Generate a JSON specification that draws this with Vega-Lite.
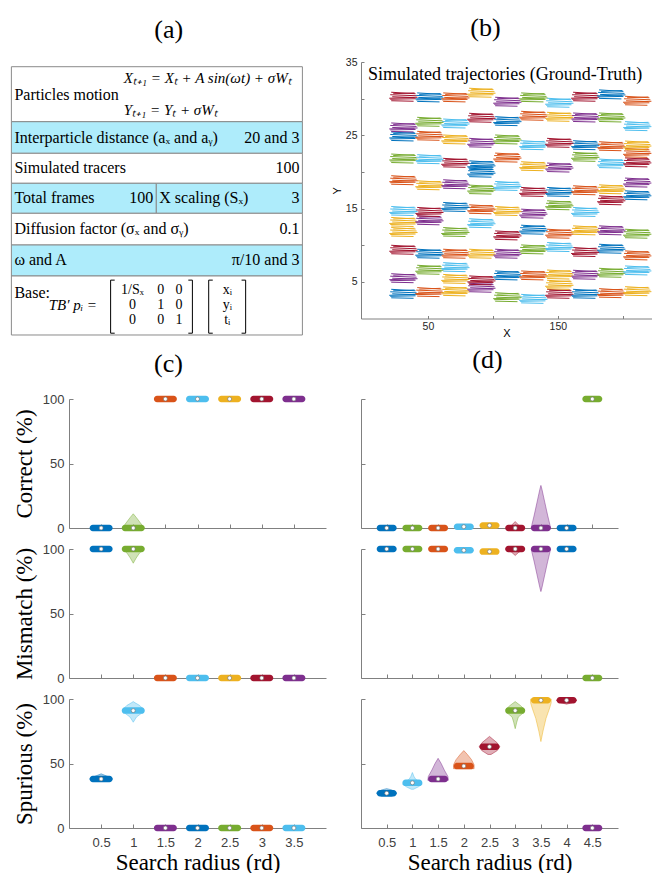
{
"$schema":"https://vega.github.io/schema/vega-lite/v6.json",
"padding":{"left":10,"top":15,"right":0,"bottom":0},
"background":"white",
"config":{
 "view":{"stroke":null},
 "axis":{"grid":false,"domainColor":"#808080","tickColor":"#808080","tickSize":-4,"labelFont":"Liberation Sans","labelFontSize":13,"labelColor":"#404040","titleFont":"Liberation Serif","titleFontSize":23,"titleFontWeight":"normal","titleColor":"#000000","labelOverlap":false},
 "axisX":{"labelPadding":12,"titlePadding":2},
 "axisY":{"labelPadding":9,"titlePadding":6},
 "title":{"font":"Liberation Serif","fontSize":26,"fontWeight":"normal","color":"#000000","frame":"group","anchor":"middle"}
},
"datasets":{
 "cells":[
  {"r0":0,"r1":1.845,"c0":0,"c1":1,"bg":"w","lt":"Particles motion","rt":"","ym":0.95},
  {"r0":1.845,"r1":2.905,"c0":0,"c1":1,"bg":"c","lt":"Interparticle distance (aₓ and aᵧ)","rt":"20 and 3","ym":2.375},
  {"r0":2.905,"r1":3.911,"c0":0,"c1":1,"bg":"w","lt":"Simulated tracers","rt":"100","ym":3.41},
  {"r0":3.911,"r1":4.918,"c0":0,"c1":0.498,"bg":"c","lt":"Total frames","rt":"100","ym":4.415},
  {"r0":3.911,"r1":4.918,"c0":0.498,"c1":1,"bg":"c","lt":"X scaling (Sₓ)","rt":"3","ym":4.415},
  {"r0":4.918,"r1":5.981,"c0":0,"c1":1,"bg":"w","lt":"Diffusion factor (σₓ and σᵧ)","rt":"0.1","ym":5.45},
  {"r0":5.981,"r1":7.021,"c0":0,"c1":1,"bg":"c","lt":"ω and A","rt":"π/10 and 3","ym":6.5},
  {"r0":7.021,"r1":9,"c0":0,"c1":1,"bg":"w","lt":"Base:","rt":"","ym":7.59}
 ],
 "eq":[
  {"x":0.386,"y":0.38,"t":"Xₜ₊₁ = Xₜ + A sin(ωt) + σWₜ"},
  {"x":0.386,"y":1.45,"t":"Yₜ₊₁ = Yₜ + σWₜ"},
  {"x":0.128,"y":8.0,"t":"TB′ pᵢ ="}
 ],
 "mat":[
  {"x":0.416,"y":7.49,"t":"1/Sₓ"},{"x":0.513,"y":7.49,"t":"0"},{"x":0.576,"y":7.49,"t":"0"},
  {"x":0.416,"y":8.0,"t":"0"},{"x":0.513,"y":8.0,"t":"1"},{"x":0.576,"y":8.0,"t":"0"},
  {"x":0.416,"y":8.5,"t":"0"},{"x":0.513,"y":8.5,"t":"0"},{"x":0.576,"y":8.5,"t":"1"},
  {"x":0.742,"y":7.49,"t":"xᵢ"},{"x":0.742,"y":8.0,"t":"yᵢ"},{"x":0.742,"y":8.5,"t":"tᵢ"}
 ],
 "br":[
  {"x":0.341,"x2":0.341,"y":7.16,"y2":8.94},{"x":0.341,"x2":0.355,"y":7.16,"y2":7.16},{"x":0.341,"x2":0.355,"y":8.94,"y2":8.94},
  {"x":0.622,"x2":0.622,"y":7.16,"y2":8.94},{"x":0.608,"x2":0.622,"y":7.16,"y2":7.16},{"x":0.608,"x2":0.622,"y":8.94,"y2":8.94},
  {"x":0.678,"x2":0.678,"y":7.16,"y2":8.94},{"x":0.678,"x2":0.692,"y":7.16,"y2":7.16},{"x":0.678,"x2":0.692,"y":8.94,"y2":8.94},
  {"x":0.805,"x2":0.805,"y":7.16,"y2":8.94},{"x":0.791,"x2":0.805,"y":7.16,"y2":7.16},{"x":0.791,"x2":0.805,"y":8.94,"y2":8.94}
 ],
 "traj":[
  {"x0":21,"x1":40.5,"y":30.26,"c":"red"},{"x0":21,"x1":40.5,"y":26.07,"c":"purple"},{"x0":21,"x1":40.5,"y":24.84,"c":"blue"},{"x0":21,"x1":40.5,"y":21.83,"c":"green"},{"x0":21,"x1":40.5,"y":18.87,"c":"orange"},{"x0":21,"x1":40.5,"y":14.67,"c":"cyan"},{"x0":21,"x1":40.5,"y":13.17,"c":"yellow"},{"x0":21,"x1":40.5,"y":11.8,"c":"yellow"},{"x0":21,"x1":40.5,"y":9.38,"c":"red"},{"x0":21,"x1":40.5,"y":5.5,"c":"purple"},{"x0":21,"x1":40.5,"y":3.37,"c":"blue"},
  {"x0":41,"x1":60.5,"y":30.17,"c":"blue"},{"x0":41,"x1":60.5,"y":26.84,"c":"green"},{"x0":41,"x1":60.5,"y":24.93,"c":"orange"},{"x0":41,"x1":60.5,"y":21.74,"c":"cyan"},{"x0":41,"x1":60.5,"y":18.18,"c":"yellow"},{"x0":41,"x1":60.5,"y":14.54,"c":"red"},{"x0":41,"x1":60.5,"y":13.4,"c":"purple"},{"x0":41,"x1":60.5,"y":8.84,"c":"blue"},{"x0":41,"x1":60.5,"y":6.65,"c":"green"},{"x0":41,"x1":60.5,"y":3.6,"c":"orange"},
  {"x0":61,"x1":80.5,"y":30.17,"c":"orange"},{"x0":61,"x1":80.5,"y":26.61,"c":"cyan"},{"x0":61,"x1":80.5,"y":24.43,"c":"yellow"},{"x0":61,"x1":80.5,"y":21.24,"c":"red"},{"x0":61,"x1":80.5,"y":18.32,"c":"purple"},{"x0":61,"x1":80.5,"y":15.22,"c":"blue"},{"x0":61,"x1":80.5,"y":11.8,"c":"green"},{"x0":61,"x1":80.5,"y":8.84,"c":"orange"},{"x0":61,"x1":80.5,"y":7.01,"c":"cyan"},{"x0":61,"x1":80.5,"y":5.4,"c":"yellow"},{"x0":61,"x1":80.5,"y":3.7,"c":"yellow"},
  {"x0":81,"x1":100.5,"y":30.81,"c":"yellow"},{"x0":81,"x1":100.5,"y":27.39,"c":"red"},{"x0":81,"x1":100.5,"y":23.97,"c":"purple"},{"x0":81,"x1":100.5,"y":20.9,"c":"blue"},{"x0":81,"x1":100.5,"y":19.9,"c":"blue"},{"x0":81,"x1":100.5,"y":17.59,"c":"green"},{"x0":81,"x1":100.5,"y":14.9,"c":"orange"},{"x0":81,"x1":100.5,"y":13.0,"c":"cyan"},{"x0":81,"x1":100.5,"y":8.84,"c":"yellow"},{"x0":81,"x1":100.5,"y":5.2,"c":"red"},{"x0":81,"x1":100.5,"y":4.2,"c":"purple"},
  {"x0":101,"x1":120.5,"y":29.58,"c":"purple"},{"x0":101,"x1":120.5,"y":26.93,"c":"blue"},{"x0":101,"x1":120.5,"y":24.43,"c":"green"},{"x0":101,"x1":120.5,"y":21.96,"c":"orange"},{"x0":101,"x1":120.5,"y":18.09,"c":"cyan"},{"x0":101,"x1":120.5,"y":14.67,"c":"yellow"},{"x0":101,"x1":120.5,"y":11.34,"c":"red"},{"x0":101,"x1":120.5,"y":8.84,"c":"purple"},{"x0":101,"x1":120.5,"y":5.88,"c":"blue"},{"x0":101,"x1":120.5,"y":2.91,"c":"green"},
  {"x0":121,"x1":140.5,"y":30.17,"c":"green"},{"x0":121,"x1":140.5,"y":27.66,"c":"orange"},{"x0":121,"x1":140.5,"y":23.65,"c":"cyan"},{"x0":121,"x1":140.5,"y":20.78,"c":"yellow"},{"x0":121,"x1":140.5,"y":17.27,"c":"red"},{"x0":121,"x1":140.5,"y":14.31,"c":"purple"},{"x0":121,"x1":140.5,"y":12.12,"c":"blue"},{"x0":121,"x1":140.5,"y":9.43,"c":"green"},{"x0":121,"x1":140.5,"y":5.88,"c":"orange"},{"x0":121,"x1":140.5,"y":2.68,"c":"cyan"},
  {"x0":141,"x1":160.5,"y":29.44,"c":"cyan"},{"x0":141,"x1":160.5,"y":27.52,"c":"yellow"},{"x0":141,"x1":160.5,"y":23.97,"c":"red"},{"x0":141,"x1":160.5,"y":20.6,"c":"purple"},{"x0":141,"x1":160.5,"y":17.27,"c":"blue"},{"x0":141,"x1":160.5,"y":15.45,"c":"green"},{"x0":141,"x1":160.5,"y":11.57,"c":"orange"},{"x0":141,"x1":160.5,"y":9.75,"c":"cyan"},{"x0":141,"x1":160.5,"y":6.0,"c":"yellow"},{"x0":141,"x1":160.5,"y":4.6,"c":"yellow"},{"x0":141,"x1":160.5,"y":3.37,"c":"red"},
  {"x0":161,"x1":180.5,"y":30.26,"c":"red"},{"x0":161,"x1":180.5,"y":27.43,"c":"purple"},{"x0":161,"x1":180.5,"y":23.65,"c":"blue"},{"x0":161,"x1":180.5,"y":22.06,"c":"green"},{"x0":161,"x1":180.5,"y":17.5,"c":"orange"},{"x0":161,"x1":180.5,"y":14.54,"c":"cyan"},{"x0":161,"x1":180.5,"y":12.03,"c":"yellow"},{"x0":161,"x1":180.5,"y":9.07,"c":"red"},{"x0":161,"x1":180.5,"y":5.97,"c":"purple"},{"x0":161,"x1":180.5,"y":3.37,"c":"blue"},
  {"x0":181,"x1":200.5,"y":30.58,"c":"blue"},{"x0":181,"x1":200.5,"y":27.43,"c":"green"},{"x0":181,"x1":200.5,"y":23.51,"c":"orange"},{"x0":181,"x1":200.5,"y":21.14,"c":"cyan"},{"x0":181,"x1":200.5,"y":17.63,"c":"yellow"},{"x0":181,"x1":200.5,"y":16.13,"c":"red"},{"x0":181,"x1":200.5,"y":12.03,"c":"purple"},{"x0":181,"x1":200.5,"y":9.52,"c":"blue"},{"x0":181,"x1":200.5,"y":6.24,"c":"green"},{"x0":181,"x1":200.5,"y":3.46,"c":"orange"},
  {"x0":201,"x1":220.5,"y":29.71,"c":"orange"},{"x0":201,"x1":220.5,"y":26.25,"c":"cyan"},{"x0":201,"x1":220.5,"y":23.6,"c":"yellow"},{"x0":201,"x1":220.5,"y":22.6,"c":"orange"},{"x0":201,"x1":220.5,"y":21.3,"c":"red"},{"x0":201,"x1":220.5,"y":18.55,"c":"purple"},{"x0":201,"x1":220.5,"y":16.81,"c":"blue"},{"x0":201,"x1":220.5,"y":11.57,"c":"green"},{"x0":201,"x1":220.5,"y":8.61,"c":"orange"},{"x0":201,"x1":220.5,"y":6.56,"c":"cyan"},{"x0":201,"x1":220.5,"y":3.73,"c":"yellow"}
 ],
 "vio":[
  {"p":"c","m":"C","g":"g1","c":"green","v":0,"lo":0.83,"hi":1.17},{"p":"c","m":"C","g":"g1","c":"green","v":4,"lo":0.89,"hi":1.11},{"p":"c","m":"C","g":"g1","c":"green","v":8,"lo":0.95,"hi":1.05},{"p":"c","m":"C","g":"g1","c":"green","v":11,"lo":1,"hi":1},
  {"p":"c","m":"M","g":"g2","c":"green","v":89,"lo":1,"hi":1},{"p":"c","m":"M","g":"g2","c":"green","v":93,"lo":0.955,"hi":1.045},{"p":"c","m":"M","g":"g2","c":"green","v":97,"lo":0.9,"hi":1.1},{"p":"c","m":"M","g":"g2","c":"green","v":100,"lo":0.83,"hi":1.17},
  {"p":"c","m":"S","g":"g3","c":"cyan","v":82,"lo":1,"hi":1},{"p":"c","m":"S","g":"g3","c":"cyan","v":86,"lo":0.95,"hi":1.05},{"p":"c","m":"S","g":"g3","c":"cyan","v":89,"lo":0.87,"hi":1.13},{"p":"c","m":"S","g":"g3","c":"cyan","v":92,"lo":0.84,"hi":1.16},{"p":"c","m":"S","g":"g3","c":"cyan","v":95,"lo":0.9,"hi":1.1},{"p":"c","m":"S","g":"g3","c":"cyan","v":97,"lo":0.97,"hi":1.03},{"p":"c","m":"S","g":"g3","c":"cyan","v":98,"lo":1,"hi":1},
  {"p":"c","m":"S","g":"g4","c":"blue","v":36.5,"lo":0.38,"hi":0.62},{"p":"c","m":"S","g":"g4","c":"blue","v":38,"lo":0.32,"hi":0.68},{"p":"c","m":"S","g":"g4","c":"blue","v":40,"lo":0.4,"hi":0.6},{"p":"c","m":"S","g":"g4","c":"blue","v":42,"lo":0.5,"hi":0.5},
  {"p":"d","m":"C","g":"g5","c":"red","v":0,"lo":2.88,"hi":3.12},{"p":"d","m":"C","g":"g5","c":"red","v":3,"lo":2.95,"hi":3.05},{"p":"d","m":"C","g":"g5","c":"red","v":5,"lo":3,"hi":3},
  {"p":"d","m":"C","g":"g6","c":"purple","v":0,"lo":3.31,"hi":3.69},{"p":"d","m":"C","g":"g6","c":"purple","v":10,"lo":3.37,"hi":3.63},{"p":"d","m":"C","g":"g6","c":"purple","v":20,"lo":3.425,"hi":3.575},{"p":"d","m":"C","g":"g6","c":"purple","v":30,"lo":3.48,"hi":3.52},{"p":"d","m":"C","g":"g6","c":"purple","v":33,"lo":3.5,"hi":3.5},
  {"p":"d","m":"M","g":"g7","c":"red","v":95,"lo":3,"hi":3},{"p":"d","m":"M","g":"g7","c":"red","v":97.5,"lo":2.93,"hi":3.07},{"p":"d","m":"M","g":"g7","c":"red","v":100,"lo":2.81,"hi":3.19},
  {"p":"d","m":"M","g":"g8","c":"purple","v":67,"lo":3.5,"hi":3.5},{"p":"d","m":"M","g":"g8","c":"purple","v":70,"lo":3.48,"hi":3.52},{"p":"d","m":"M","g":"g8","c":"purple","v":80,"lo":3.425,"hi":3.575},{"p":"d","m":"M","g":"g8","c":"purple","v":90,"lo":3.37,"hi":3.63},{"p":"d","m":"M","g":"g8","c":"purple","v":100,"lo":3.31,"hi":3.69},
  {"p":"d","m":"S","g":"g9","c":"blue","v":24.5,"lo":0.4,"hi":0.6},{"p":"d","m":"S","g":"g9","c":"blue","v":27,"lo":0.3,"hi":0.7},{"p":"d","m":"S","g":"g9","c":"blue","v":29.5,"lo":0.4,"hi":0.6},{"p":"d","m":"S","g":"g9","c":"blue","v":30.5,"lo":0.5,"hi":0.5},
  {"p":"d","m":"S","g":"g10","c":"cyan","v":30,"lo":0.98,"hi":1.02},{"p":"d","m":"S","g":"g10","c":"cyan","v":32,"lo":0.88,"hi":1.12},{"p":"d","m":"S","g":"g10","c":"cyan","v":34,"lo":0.81,"hi":1.19},{"p":"d","m":"S","g":"g10","c":"cyan","v":36,"lo":0.87,"hi":1.13},{"p":"d","m":"S","g":"g10","c":"cyan","v":38,"lo":0.94,"hi":1.06},{"p":"d","m":"S","g":"g10","c":"cyan","v":40,"lo":0.97,"hi":1.03},{"p":"d","m":"S","g":"g10","c":"cyan","v":43,"lo":1,"hi":1},
  {"p":"d","m":"S","g":"g11","c":"purple","v":37,"lo":1.3,"hi":1.7},{"p":"d","m":"S","g":"g11","c":"purple","v":40,"lo":1.31,"hi":1.69},{"p":"d","m":"S","g":"g11","c":"purple","v":45,"lo":1.38,"hi":1.62},{"p":"d","m":"S","g":"g11","c":"purple","v":50,"lo":1.44,"hi":1.56},{"p":"d","m":"S","g":"g11","c":"purple","v":54,"lo":1.5,"hi":1.5},
  {"p":"d","m":"S","g":"g12","c":"orange","v":46,"lo":1.8,"hi":2.2},{"p":"d","m":"S","g":"g12","c":"orange","v":49,"lo":1.8,"hi":2.2},{"p":"d","m":"S","g":"g12","c":"orange","v":53,"lo":1.85,"hi":2.15},{"p":"d","m":"S","g":"g12","c":"orange","v":57,"lo":1.93,"hi":2.07},{"p":"d","m":"S","g":"g12","c":"orange","v":60,"lo":2,"hi":2},
  {"p":"d","m":"S","g":"g13","c":"red","v":57,"lo":2.47,"hi":2.53},{"p":"d","m":"S","g":"g13","c":"red","v":60,"lo":2.35,"hi":2.65},{"p":"d","m":"S","g":"g13","c":"red","v":63,"lo":2.3,"hi":2.7},{"p":"d","m":"S","g":"g13","c":"red","v":66,"lo":2.35,"hi":2.65},{"p":"d","m":"S","g":"g13","c":"red","v":69,"lo":2.44,"hi":2.56},{"p":"d","m":"S","g":"g13","c":"red","v":71,"lo":2.5,"hi":2.5},
  {"p":"d","m":"S","g":"g14","c":"green","v":77,"lo":3,"hi":3},{"p":"d","m":"S","g":"g14","c":"green","v":82,"lo":2.97,"hi":3.03},{"p":"d","m":"S","g":"g14","c":"green","v":86,"lo":2.94,"hi":3.06},{"p":"d","m":"S","g":"g14","c":"green","v":89,"lo":2.85,"hi":3.15},{"p":"d","m":"S","g":"g14","c":"green","v":92,"lo":2.82,"hi":3.18},{"p":"d","m":"S","g":"g14","c":"green","v":95,"lo":2.9,"hi":3.1},{"p":"d","m":"S","g":"g14","c":"green","v":98,"lo":3,"hi":3},
  {"p":"d","m":"S","g":"g15","c":"yellow","v":67,"lo":3.5,"hi":3.5},{"p":"d","m":"S","g":"g15","c":"yellow","v":75,"lo":3.46,"hi":3.54},{"p":"d","m":"S","g":"g15","c":"yellow","v":85,"lo":3.4,"hi":3.6},{"p":"d","m":"S","g":"g15","c":"yellow","v":93,"lo":3.33,"hi":3.67},{"p":"d","m":"S","g":"g15","c":"yellow","v":97,"lo":3.3,"hi":3.7},{"p":"d","m":"S","g":"g15","c":"yellow","v":100,"lo":3.3,"hi":3.7},
  {"p":"d","m":"S","g":"g16","c":"red","v":96,"lo":4,"hi":4},{"p":"d","m":"S","g":"g16","c":"red","v":97,"lo":3.9,"hi":4.1},{"p":"d","m":"S","g":"g16","c":"red","v":99,"lo":3.8,"hi":4.2},{"p":"d","m":"S","g":"g16","c":"red","v":100,"lo":3.85,"hi":4.15}
 ],
 "pts":[
  {"p":"c","m":"C","x":0.5,"v":0,"c":"blue"},{"p":"c","m":"C","x":1,"v":0,"c":"green"},{"p":"c","m":"C","x":1.5,"v":100,"c":"orange"},{"p":"c","m":"C","x":2,"v":100,"c":"cyan"},{"p":"c","m":"C","x":2.5,"v":100,"c":"yellow"},{"p":"c","m":"C","x":3,"v":100,"c":"red"},{"p":"c","m":"C","x":3.5,"v":100,"c":"purple"},
  {"p":"c","m":"M","x":0.5,"v":100,"c":"blue"},{"p":"c","m":"M","x":1,"v":100,"c":"green"},{"p":"c","m":"M","x":1.5,"v":0,"c":"orange"},{"p":"c","m":"M","x":2,"v":0,"c":"cyan"},{"p":"c","m":"M","x":2.5,"v":0,"c":"yellow"},{"p":"c","m":"M","x":3,"v":0,"c":"red"},{"p":"c","m":"M","x":3.5,"v":0,"c":"purple"},
  {"p":"c","m":"S","x":0.5,"v":38,"c":"blue"},{"p":"c","m":"S","x":1,"v":91,"c":"cyan"},{"p":"c","m":"S","x":1.5,"v":0,"c":"purple"},{"p":"c","m":"S","x":2,"v":0,"c":"blue"},{"p":"c","m":"S","x":2.5,"v":0,"c":"green"},{"p":"c","m":"S","x":3,"v":0,"c":"orange"},{"p":"c","m":"S","x":3.5,"v":0,"c":"cyan"},
  {"p":"d","m":"C","x":0.5,"v":0,"c":"blue"},{"p":"d","m":"C","x":1,"v":0,"c":"green"},{"p":"d","m":"C","x":1.5,"v":0,"c":"orange"},{"p":"d","m":"C","x":2,"v":1,"c":"cyan"},{"p":"d","m":"C","x":2.5,"v":2,"c":"yellow"},{"p":"d","m":"C","x":3,"v":0,"c":"red"},{"p":"d","m":"C","x":3.5,"v":0,"c":"purple"},{"p":"d","m":"C","x":4,"v":0,"c":"blue"},{"p":"d","m":"C","x":4.5,"v":100,"c":"green"},
  {"p":"d","m":"M","x":0.5,"v":100,"c":"blue"},{"p":"d","m":"M","x":1,"v":100,"c":"green"},{"p":"d","m":"M","x":1.5,"v":100,"c":"orange"},{"p":"d","m":"M","x":2,"v":99,"c":"cyan"},{"p":"d","m":"M","x":2.5,"v":98,"c":"yellow"},{"p":"d","m":"M","x":3,"v":100,"c":"red"},{"p":"d","m":"M","x":3.5,"v":100,"c":"purple"},{"p":"d","m":"M","x":4,"v":100,"c":"blue"},{"p":"d","m":"M","x":4.5,"v":0,"c":"green"},
  {"p":"d","m":"S","x":0.5,"v":27,"c":"blue"},{"p":"d","m":"S","x":1,"v":35,"c":"cyan"},{"p":"d","m":"S","x":1.5,"v":38,"c":"purple"},{"p":"d","m":"S","x":2,"v":48,"c":"orange"},{"p":"d","m":"S","x":2.5,"v":63,"c":"red"},{"p":"d","m":"S","x":3,"v":91,"c":"green"},{"p":"d","m":"S","x":3.5,"v":99,"c":"yellow"},{"p":"d","m":"S","x":4,"v":99,"c":"red"},{"p":"d","m":"S","x":4.5,"v":0,"c":"purple"}
 ]
},
"columns":2,
"spacing":{"row":21,"column":35},
"bounds":"flush",
"concat":[
  {"width":233.4,"height":316,
   "title":{"text":"(a)","dx":-17,"offset":19},
   "layer":[
    {"data":{"name":"cells"},"mark":{"type":"rect","stroke":"#8a8a8a","strokeWidth":1},
     "encoding":{"x":{"field":"c0","type":"quantitative","scale":{"domain":[0.198,1],"nice":false,"zero":false},"axis":null},"x2":{"field":"c1"},
      "y":{"field":"r0","type":"quantitative","scale":{"domain":[-0.158,10.443],"reverse":true,"nice":false,"zero":false},"axis":null},"y2":{"field":"r1"},
      "fill":{"field":"bg","type":"nominal","scale":{"domain":["w","c"],"range":["#ffffff","#aeecfb"]},"legend":null}}},
    {"data":{"name":"cells"},"mark":{"type":"text","align":"left","baseline":"middle","dx":3,"font":"Liberation Serif","fontSize":16,"color":"#000000"},
     "encoding":{"x":{"field":"c0","type":"quantitative","axis":null},"y":{"field":"ym","type":"quantitative","axis":null},"text":{"field":"lt"}}},
    {"data":{"name":"cells"},"mark":{"type":"text","align":"right","baseline":"middle","dx":-3,"font":"Liberation Serif","fontSize":16,"color":"#000000"},
     "encoding":{"x":{"field":"c1","type":"quantitative","axis":null},"y":{"field":"ym","type":"quantitative","axis":null},"text":{"field":"rt"}}},
    {"data":{"name":"eq"},"mark":{"type":"text","align":"left","baseline":"middle","font":"Liberation Serif","fontSize":15,"fontStyle":"italic","color":"#000000"},
     "encoding":{"x":{"field":"x","type":"quantitative","axis":null},"y":{"field":"y","type":"quantitative","axis":null},"text":{"field":"t"}}},
    {"data":{"name":"mat"},"mark":{"type":"text","align":"center","baseline":"middle","font":"Liberation Serif","fontSize":14,"color":"#000000"},
     "encoding":{"x":{"field":"x","type":"quantitative","axis":null},"y":{"field":"y","type":"quantitative","axis":null},"text":{"field":"t"}}},
    {"data":{"name":"br"},"mark":{"type":"rule","color":"#000000","strokeWidth":1},
     "encoding":{"x":{"field":"x","type":"quantitative","axis":null},"x2":{"field":"x2"},"y":{"field":"y","type":"quantitative","axis":null},"y2":{"field":"y2"}}}
   ]},
  {"width":291,"height":256.5,
   "title":{"text":"(b)","dx":-21,"offset":16},
   "layer":[
    {"data":{"name":"traj"},
     "encoding":{
      "x":{"field":"x0","type":"quantitative","scale":{"domain":[-1.5,222.5],"nice":false,"zero":false},"axis":{"values":[50,100,150,200],"labelExpr":"datum.value==50||datum.value==150?datum.label:''","title":"X","titleFont":"Liberation Sans","titleFontSize":11,"titlePadding":-5,"labelFontSize":10.5,"labelColor":"#262626","tickSize":-3,"labelPadding":6,"tickCount":20}},
      "x2":{"field":"x1"},
      "y":{"field":"y","type":"quantitative","scale":{"domain":[0,35],"nice":false},"axis":{"values":[5,10,15,20,25,30,35],"labelExpr":"datum.value%10==5?datum.label:''","title":"Y","titleFont":"Liberation Sans","titleFontSize":11,"titlePadding":3,"labelFontSize":10.5,"labelColor":"#262626","tickSize":-3,"labelPadding":7,"tickCount":20}},
      "y2":{"field":"y"},
      "color":{"field":"c","type":"nominal","scale":{"domain":["blue","orange","yellow","purple","green","cyan","red"],"range":["#0072BD","#D95319","#EDB120","#7E2F8E","#77AC30","#4DBEEE","#A2142F"]},"legend":null}},
     "layer":[
      {"mark":{"type":"rule","strokeWidth":1,"yOffset":-4.5,"y2Offset":-3,"xOffset":1}},
      {"mark":{"type":"rule","strokeWidth":1,"yOffset":-3,"y2Offset":-3.8,"xOffset":3,"x2Offset":-1}},
      {"mark":{"type":"rule","strokeWidth":1,"yOffset":-2,"y2Offset":-1,"x2Offset":1}},
      {"mark":{"type":"rule","strokeWidth":1,"yOffset":0,"y2Offset":0.8,"xOffset":2,"x2Offset":-1}},
      {"mark":{"type":"rule","strokeWidth":1,"yOffset":1.5,"y2Offset":0.5,"xOffset":-1,"x2Offset":2}},
      {"mark":{"type":"rule","strokeWidth":1,"yOffset":2.5,"y2Offset":2}},
      {"mark":{"type":"rule","strokeWidth":1,"yOffset":4,"y2Offset":4.5,"xOffset":1,"x2Offset":-2}}
     ]},
    {"data":{"values":[{}]},"mark":{"type":"text","text":"Simulated trajectories (Ground-Truth)","align":"left","baseline":"middle","font":"Liberation Serif","fontSize":18,"color":"#000000"},
     "encoding":{"x":{"datum":3.8,"type":"quantitative"},"y":{"datum":33.2,"type":"quantitative"}}}
   ]},
   {"width":257,"height":129,"title":{"text":"(c)","dx":-29,"offset":16},
    "encoding":{"color":{"field":"c","type":"nominal","scale":{"domain":["blue","orange","yellow","purple","green","cyan","red"],"range":["#0072BD","#D95319","#EDB120","#7E2F8E","#77AC30","#4DBEEE","#A2142F"]},"legend":null}},
    "layer":[
     {"data":{"name":"vio"},"transform":[{"filter":"datum.p=='c'&&datum.m=='C'"}],"mark":{"type":"area","orient":"horizontal","fillOpacity":0.35,"strokeWidth":0.8,"strokeOpacity":0.6},
      "encoding":{"x":{"field":"lo","type":"quantitative","scale":{"domain":[0,4],"nice":false},"axis":{"values":[0.5,1,1.5,2,2.5,3,3.5],"tickCount":20,"labels":false,"title":null}},"x2":{"field":"hi"},
       "y":{"field":"v","type":"quantitative","scale":{"domain":[0,100],"nice":false},"axis":{"values":[0,50,100],"title":"Correct (%)"}},"detail":{"field":"g"},
       "stroke":{"field":"c","type":"nominal","scale":{"domain":["blue","orange","yellow","purple","green","cyan","red"],"range":["#0072BD","#D95319","#EDB120","#7E2F8E","#77AC30","#4DBEEE","#A2142F"]},"legend":null}}},
     {"data":{"name":"pts"},"transform":[{"filter":"datum.p=='c'&&datum.m=='C'"}],"mark":{"type":"tick","orient":"horizontal","size":23,"thickness":6.5,"cornerRadius":3.2,"opacity":1},
      "encoding":{"x":{"field":"x","type":"quantitative"},"y":{"field":"v","type":"quantitative"}}},
     {"data":{"name":"pts"},"transform":[{"filter":"datum.p=='c'&&datum.m=='C'"}],"mark":{"type":"circle","size":16,"stroke":"#707070","strokeWidth":0.6,"opacity":1},
      "encoding":{"x":{"field":"x","type":"quantitative"},"y":{"field":"v","type":"quantitative"},"color":{"value":"white"}}}
    ]},
   {"width":257,"height":129,"title":{"text":"(d)","dx":-2,"offset":23},
    "encoding":{"color":{"field":"c","type":"nominal","scale":{"domain":["blue","orange","yellow","purple","green","cyan","red"],"range":["#0072BD","#D95319","#EDB120","#7E2F8E","#77AC30","#4DBEEE","#A2142F"]},"legend":null}},
    "layer":[
     {"data":{"name":"vio"},"transform":[{"filter":"datum.p=='d'&&datum.m=='C'"}],"mark":{"type":"area","orient":"horizontal","fillOpacity":0.35,"strokeWidth":0.8,"strokeOpacity":0.6},
      "encoding":{"x":{"field":"lo","type":"quantitative","scale":{"domain":[0,5],"nice":false},"axis":{"values":[0.5,1,1.5,2,2.5,3,3.5,4,4.5],"tickCount":20,"labels":false,"title":null}},"x2":{"field":"hi"},
       "y":{"field":"v","type":"quantitative","scale":{"domain":[0,100],"nice":false},"axis":{"values":[0,50,100],"labels":false,"title":null}},"detail":{"field":"g"},
       "stroke":{"field":"c","type":"nominal","scale":{"domain":["blue","orange","yellow","purple","green","cyan","red"],"range":["#0072BD","#D95319","#EDB120","#7E2F8E","#77AC30","#4DBEEE","#A2142F"]},"legend":null}}},
     {"data":{"name":"pts"},"transform":[{"filter":"datum.p=='d'&&datum.m=='C'"}],"mark":{"type":"tick","orient":"horizontal","size":20,"thickness":6.5,"cornerRadius":3.2,"opacity":1},
      "encoding":{"x":{"field":"x","type":"quantitative"},"y":{"field":"v","type":"quantitative"}}},
     {"data":{"name":"pts"},"transform":[{"filter":"datum.p=='d'&&datum.m=='C'"}],"mark":{"type":"circle","size":16,"stroke":"#707070","strokeWidth":0.6,"opacity":1},
      "encoding":{"x":{"field":"x","type":"quantitative"},"y":{"field":"v","type":"quantitative"},"color":{"value":"white"}}}
    ]},
   {"width":257,"height":129,
    "encoding":{"color":{"field":"c","type":"nominal","scale":{"domain":["blue","orange","yellow","purple","green","cyan","red"],"range":["#0072BD","#D95319","#EDB120","#7E2F8E","#77AC30","#4DBEEE","#A2142F"]},"legend":null}},
    "layer":[
     {"data":{"name":"vio"},"transform":[{"filter":"datum.p=='c'&&datum.m=='M'"}],"mark":{"type":"area","orient":"horizontal","fillOpacity":0.35,"strokeWidth":0.8,"strokeOpacity":0.6},
      "encoding":{"x":{"field":"lo","type":"quantitative","scale":{"domain":[0,4],"nice":false},"axis":{"values":[0.5,1,1.5,2,2.5,3,3.5],"tickCount":20,"labels":false,"title":null}},"x2":{"field":"hi"},
       "y":{"field":"v","type":"quantitative","scale":{"domain":[0,100],"nice":false},"axis":{"values":[0,50,100],"title":"Mismatch (%)"}},"detail":{"field":"g"},
       "stroke":{"field":"c","type":"nominal","scale":{"domain":["blue","orange","yellow","purple","green","cyan","red"],"range":["#0072BD","#D95319","#EDB120","#7E2F8E","#77AC30","#4DBEEE","#A2142F"]},"legend":null}}},
     {"data":{"name":"pts"},"transform":[{"filter":"datum.p=='c'&&datum.m=='M'"}],"mark":{"type":"tick","orient":"horizontal","size":23,"thickness":6.5,"cornerRadius":3.2,"opacity":1},
      "encoding":{"x":{"field":"x","type":"quantitative"},"y":{"field":"v","type":"quantitative"}}},
     {"data":{"name":"pts"},"transform":[{"filter":"datum.p=='c'&&datum.m=='M'"}],"mark":{"type":"circle","size":16,"stroke":"#707070","strokeWidth":0.6,"opacity":1},
      "encoding":{"x":{"field":"x","type":"quantitative"},"y":{"field":"v","type":"quantitative"},"color":{"value":"white"}}}
    ]},
   {"width":257,"height":129,
    "encoding":{"color":{"field":"c","type":"nominal","scale":{"domain":["blue","orange","yellow","purple","green","cyan","red"],"range":["#0072BD","#D95319","#EDB120","#7E2F8E","#77AC30","#4DBEEE","#A2142F"]},"legend":null}},
    "layer":[
     {"data":{"name":"vio"},"transform":[{"filter":"datum.p=='d'&&datum.m=='M'"}],"mark":{"type":"area","orient":"horizontal","fillOpacity":0.35,"strokeWidth":0.8,"strokeOpacity":0.6},
      "encoding":{"x":{"field":"lo","type":"quantitative","scale":{"domain":[0,5],"nice":false},"axis":{"values":[0.5,1,1.5,2,2.5,3,3.5,4,4.5],"tickCount":20,"labels":false,"title":null}},"x2":{"field":"hi"},
       "y":{"field":"v","type":"quantitative","scale":{"domain":[0,100],"nice":false},"axis":{"values":[0,50,100],"labels":false,"title":null}},"detail":{"field":"g"},
       "stroke":{"field":"c","type":"nominal","scale":{"domain":["blue","orange","yellow","purple","green","cyan","red"],"range":["#0072BD","#D95319","#EDB120","#7E2F8E","#77AC30","#4DBEEE","#A2142F"]},"legend":null}}},
     {"data":{"name":"pts"},"transform":[{"filter":"datum.p=='d'&&datum.m=='M'"}],"mark":{"type":"tick","orient":"horizontal","size":20,"thickness":6.5,"cornerRadius":3.2,"opacity":1},
      "encoding":{"x":{"field":"x","type":"quantitative"},"y":{"field":"v","type":"quantitative"}}},
     {"data":{"name":"pts"},"transform":[{"filter":"datum.p=='d'&&datum.m=='M'"}],"mark":{"type":"circle","size":16,"stroke":"#707070","strokeWidth":0.6,"opacity":1},
      "encoding":{"x":{"field":"x","type":"quantitative"},"y":{"field":"v","type":"quantitative"},"color":{"value":"white"}}}
    ]},
   {"width":257,"height":129,
    "encoding":{"color":{"field":"c","type":"nominal","scale":{"domain":["blue","orange","yellow","purple","green","cyan","red"],"range":["#0072BD","#D95319","#EDB120","#7E2F8E","#77AC30","#4DBEEE","#A2142F"]},"legend":null}},
    "layer":[
     {"data":{"name":"vio"},"transform":[{"filter":"datum.p=='c'&&datum.m=='S'"}],"mark":{"type":"area","orient":"horizontal","fillOpacity":0.35,"strokeWidth":0.8,"strokeOpacity":0.6},
      "encoding":{"x":{"field":"lo","type":"quantitative","scale":{"domain":[0,4],"nice":false},"axis":{"values":[0.5,1,1.5,2,2.5,3,3.5],"tickCount":20,"format":".1~f","labelOverlap":false,"title":"Search radius (rd)"}},"x2":{"field":"hi"},
       "y":{"field":"v","type":"quantitative","scale":{"domain":[0,100],"nice":false},"axis":{"values":[0,50,100],"title":"Spurious (%)"}},"detail":{"field":"g"},
       "stroke":{"field":"c","type":"nominal","scale":{"domain":["blue","orange","yellow","purple","green","cyan","red"],"range":["#0072BD","#D95319","#EDB120","#7E2F8E","#77AC30","#4DBEEE","#A2142F"]},"legend":null}}},
     {"data":{"name":"pts"},"transform":[{"filter":"datum.p=='c'&&datum.m=='S'"}],"mark":{"type":"tick","orient":"horizontal","size":23,"thickness":6.5,"cornerRadius":3.2,"opacity":1},
      "encoding":{"x":{"field":"x","type":"quantitative"},"y":{"field":"v","type":"quantitative"}}},
     {"data":{"name":"pts"},"transform":[{"filter":"datum.p=='c'&&datum.m=='S'"}],"mark":{"type":"circle","size":16,"stroke":"#707070","strokeWidth":0.6,"opacity":1},
      "encoding":{"x":{"field":"x","type":"quantitative"},"y":{"field":"v","type":"quantitative"},"color":{"value":"white"}}}
    ]},
   {"width":257,"height":129,
    "encoding":{"color":{"field":"c","type":"nominal","scale":{"domain":["blue","orange","yellow","purple","green","cyan","red"],"range":["#0072BD","#D95319","#EDB120","#7E2F8E","#77AC30","#4DBEEE","#A2142F"]},"legend":null}},
    "layer":[
     {"data":{"name":"vio"},"transform":[{"filter":"datum.p=='d'&&datum.m=='S'"}],"mark":{"type":"area","orient":"horizontal","fillOpacity":0.35,"strokeWidth":0.8,"strokeOpacity":0.6},
      "encoding":{"x":{"field":"lo","type":"quantitative","scale":{"domain":[0,5],"nice":false},"axis":{"values":[0.5,1,1.5,2,2.5,3,3.5,4,4.5],"tickCount":20,"format":".1~f","labelOverlap":false,"title":"Search radius (rd)"}},"x2":{"field":"hi"},
       "y":{"field":"v","type":"quantitative","scale":{"domain":[0,100],"nice":false},"axis":{"values":[0,50,100],"labels":false,"title":null}},"detail":{"field":"g"},
       "stroke":{"field":"c","type":"nominal","scale":{"domain":["blue","orange","yellow","purple","green","cyan","red"],"range":["#0072BD","#D95319","#EDB120","#7E2F8E","#77AC30","#4DBEEE","#A2142F"]},"legend":null}}},
     {"data":{"name":"pts"},"transform":[{"filter":"datum.p=='d'&&datum.m=='S'"}],"mark":{"type":"tick","orient":"horizontal","size":20,"thickness":6.5,"cornerRadius":3.2,"opacity":1},
      "encoding":{"x":{"field":"x","type":"quantitative"},"y":{"field":"v","type":"quantitative"}}},
     {"data":{"name":"pts"},"transform":[{"filter":"datum.p=='d'&&datum.m=='S'"}],"mark":{"type":"circle","size":16,"stroke":"#707070","strokeWidth":0.6,"opacity":1},
      "encoding":{"x":{"field":"x","type":"quantitative"},"y":{"field":"v","type":"quantitative"},"color":{"value":"white"}}}
    ]}
]
}
